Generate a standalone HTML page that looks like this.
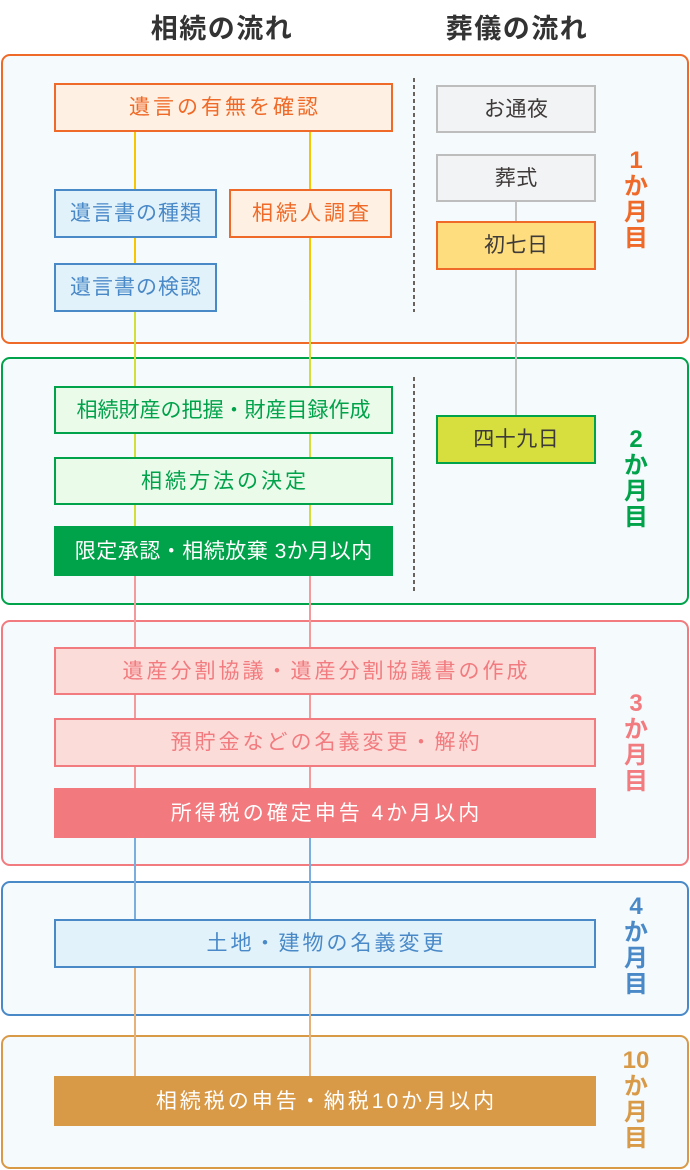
<!DOCTYPE html>
<html><head><meta charset="utf-8">
<style>
*{margin:0;padding:0;box-sizing:border-box}
body{width:690px;height:1170px;background:#fff;position:relative;overflow:hidden;font-family:"Liberation Sans","Noto Sans CJK JP",sans-serif}
.a{position:absolute}
.t{position:absolute;top:7px;font-size:27px;font-weight:bold;color:#333;letter-spacing:1.5px;text-align:center;width:200px}
.sec{position:absolute;left:1px;width:688px;border:2px solid;border-radius:9px;background:#f5fafd}
.ln{position:absolute;width:2px}
.bx{position:absolute;display:flex;align-items:center;justify-content:center;border:2px solid;font-size:21px;white-space:nowrap;line-height:1}
.bx span{display:inline-block}
.mo{position:absolute;left:612px;width:48px;text-align:center;font-size:24px;font-weight:bold;line-height:26px}
.dot{position:absolute;left:413px;width:2px;background:repeating-linear-gradient(to bottom,#6a625e 0 4px,transparent 4px 7px)}
</style></head><body>
<div class="t" style="left:122px">相続の流れ</div>
<div class="t" style="left:417px">葬儀の流れ</div>

<!-- sections -->
<div class="sec" style="top:54px;height:290px;border-color:#ef6a28"></div>
<div class="sec" style="top:357px;height:248px;border-color:#00a24a"></div>
<div class="sec" style="top:620px;height:246px;border-color:#f17b7f"></div>
<div class="sec" style="top:881px;height:135px;border-color:#4a89c8"></div>
<div class="sec" style="top:1035px;height:134px;border-color:#d99a48"></div>

<!-- connector lines -->
<div class="ln" style="left:134px;top:132px;height:170px;background:#f7c600"></div>
<div class="ln" style="left:309px;top:132px;height:170px;background:#f7c600"></div>
<div class="ln" style="left:134px;top:300px;height:228px;background:#d4de3a"></div>
<div class="ln" style="left:309px;top:300px;height:228px;background:#d4de3a"></div>
<div class="ln" style="left:134px;top:574px;height:216px;background:#f29a9c"></div>
<div class="ln" style="left:309px;top:574px;height:216px;background:#f29a9c"></div>
<div class="ln" style="left:134px;top:836px;height:85px;background:#7badde"></div>
<div class="ln" style="left:309px;top:836px;height:85px;background:#7badde"></div>
<div class="ln" style="left:134px;top:966px;height:112px;background:#e4b27a"></div>
<div class="ln" style="left:309px;top:966px;height:112px;background:#e4b27a"></div>
<div class="ln" style="left:515px;top:200px;height:217px;background:#c2c2c2"></div>

<div class="dot" style="top:78px;height:234px"></div>
<div class="dot" style="top:377px;height:214px"></div>

<!-- section 1 -->
<div class="bx" style="left:54px;top:83px;width:339px;height:49px;border-color:#ef6a28;background:#fef0e2;color:#ef6a28;letter-spacing:3px;padding-left:3px"><span>遺言の有無を確認</span></div>
<div class="bx" style="left:54px;top:189px;width:163px;height:49px;border-color:#4a89c8;background:#e1f2fa;color:#4a89c8;letter-spacing:1px;padding-left:1px"><span>遺言書の種類</span></div>
<div class="bx" style="left:229px;top:189px;width:163px;height:49px;border-color:#ef6a28;background:#fef0e2;color:#ef6a28;letter-spacing:3px;padding-left:3px"><span>相続人調査</span></div>
<div class="bx" style="left:54px;top:263px;width:163px;height:49px;border-color:#4a89c8;background:#e1f2fa;color:#4a89c8;letter-spacing:1px;padding-left:1px"><span>遺言書の検認</span></div>
<div class="bx" style="left:436px;top:85px;width:160px;height:48px;border-color:#bdbdbd;background:#f2f3f4;color:#3e3a39;letter-spacing:0.5px;padding-left:0.5px"><span>お通夜</span></div>
<div class="bx" style="left:436px;top:154px;width:160px;height:48px;border-color:#bdbdbd;background:#f2f3f4;color:#3e3a39;letter-spacing:0.5px;padding-left:0.5px"><span>葬式</span></div>
<div class="bx" style="left:436px;top:221px;width:160px;height:49px;border-color:#ef6a28;background:#fddd7e;color:#3e3a39;letter-spacing:0.5px;padding-left:0.5px"><span>初七日</span></div>
<div class="mo" style="top:148px;color:#ef6a28">1<br>か<br>月<br>目</div>

<!-- section 2 -->
<div class="bx" style="left:54px;top:386px;width:339px;height:48px;border-color:#00a24a;background:#eafbea;color:#00a24a;letter-spacing:0px"><span>相続財産の把握・財産目録作成</span></div>
<div class="bx" style="left:54px;top:457px;width:339px;height:48px;border-color:#00a24a;background:#eafbea;color:#00a24a;letter-spacing:3px;padding-left:3px"><span>相続方法の決定</span></div>
<div class="bx" style="left:54px;top:526px;width:339px;height:50px;border-color:#00a24a;background:#00a24a;color:#fff;letter-spacing:0.5px;padding-left:0.5px"><span>限定承認・相続放棄 3か月以内</span></div>
<div class="bx" style="left:436px;top:415px;width:160px;height:49px;border-color:#00a24a;background:#d6df3e;color:#3e3a39;letter-spacing:0.5px;padding-left:0.5px"><span>四十九日</span></div>
<div class="mo" style="top:427px;color:#00a24a">2<br>か<br>月<br>目</div>

<!-- section 3 -->
<div class="bx" style="left:54px;top:647px;width:542px;height:48px;border-color:#f17b7f;background:#fcdcd9;color:#f17b7f;letter-spacing:3px;padding-left:3px"><span>遺産分割協議・遺産分割協議書の作成</span></div>
<div class="bx" style="left:54px;top:718px;width:542px;height:49px;border-color:#f17b7f;background:#fcdcd9;color:#f17b7f;letter-spacing:3px;padding-left:3px"><span>預貯金などの名義変更・解約</span></div>
<div class="bx" style="left:54px;top:788px;width:542px;height:50px;border-color:#f27a7e;background:#f27a7e;color:#fff;letter-spacing:3px;padding-left:3px"><span>所得税の確定申告 4か月以内</span></div>
<div class="mo" style="top:691px;color:#f17b7f">3<br>か<br>月<br>目</div>

<!-- section 4 -->
<div class="bx" style="left:54px;top:919px;width:542px;height:49px;border-color:#4a89c8;background:#e1f2fa;color:#4a89c8;letter-spacing:3px;padding-left:3px"><span>土地・建物の名義変更</span></div>
<div class="mo" style="top:894px;color:#4a89c8">4<br>か<br>月<br>目</div>

<!-- section 5 -->
<div class="bx" style="left:54px;top:1076px;width:542px;height:50px;border-color:#d99a48;background:#d99a48;color:#fff;letter-spacing:3px;padding-left:3px"><span>相続税の申告・納税10か月以内</span></div>
<div class="mo" style="top:1048px;color:#d99a48">10<br>か<br>月<br>目</div>
</body></html>
